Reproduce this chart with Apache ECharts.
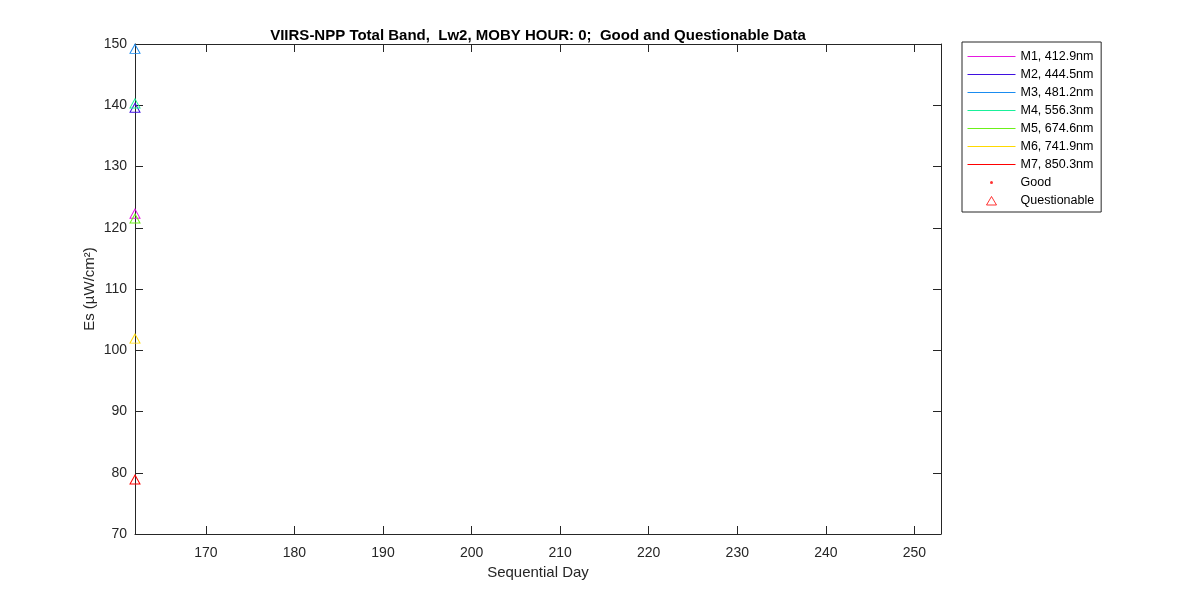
<!DOCTYPE html>
<html>
<head>
<meta charset="utf-8">
<title>VIIRS-NPP Total Band Lw2</title>
<script src="https://cdn.jsdelivr.net/npm/echarts@6/dist/echarts.min.js"></script>
<style>
  html, body { margin: 0; padding: 0; background: #fff; }
  #chart { width: 1200px; height: 600px; }
</style>
</head>
<body>
<div id="chart"></div>
<script>
// data: one questionable point per band on day 162
const bandNames = ['M1, 412.9nm', 'M2, 444.5nm', 'M3, 481.2nm', 'M4, 556.3nm', 'M5, 674.6nm', 'M6, 741.9nm', 'M7, 850.3nm'];
const bandColors = ['#E619E0', '#3F10E0', '#1A8CF0', '#19F09A', '#6CF019', '#FFD900', '#FF0000'];
const seqDay = [162, 162, 162, 162, 162, 162, 162];
const esValues = [122.3, 139.6, 149.2, 140.3, 121.5, 101.9, 78.9];
const xTicks = [170, 180, 190, 200, 210, 220, 230, 240, 250];

const axisColor = '#262626';
const font = 'Liberation Sans, Arial, Helvetica, sans-serif';
const clear = 'rgba(0,0,0,0)';

const chart = echarts.init(document.getElementById('chart'));

const series = bandNames.map((name, i) => ({
  name: name,
  type: 'line',
  data: [[seqDay[i], esValues[i]]],
  symbol: 'triangle',
  symbolSize: [10, 9],
  lineStyle: { color: bandColors[i], width: 1 },
  itemStyle: { color: clear, borderColor: bandColors[i], borderWidth: 1 },
  emphasis: { disabled: true },
  z: 3 + i
}));
series.push({
  name: 'Good', type: 'scatter', data: [],
  symbol: 'circle', symbolSize: 4, itemStyle: { color: '#FF0000' }
});
series.push({
  name: 'Questionable', type: 'scatter', data: [],
  symbol: 'triangle', symbolSize: [10, 9],
  itemStyle: { color: clear, borderColor: '#FF0000', borderWidth: 1 }
});

const legendData = bandNames.map((name, i) => ({
  name: name,
  lineStyle: { color: bandColors[i], width: 1 },
  itemStyle: { color: clear, borderColor: clear, borderWidth: 0 }
}));
legendData.push({
  name: 'Good',
  icon: 'path://M0,0M48,13M22.5,6.5a1.5,1.5 0 1,0 3,0a1.5,1.5 0 1,0 -3,0Z',
  itemStyle: { color: '#FF0000', borderWidth: 0 }
});
legendData.push({
  name: 'Questionable',
  icon: 'path://M0,0M48,13M24,2L29,10.5L19,10.5Z',
  itemStyle: { color: clear, borderColor: '#FF0000', borderWidth: 1 }
});

const option = {
  backgroundColor: '#fff',
  animation: false,
  textStyle: { fontFamily: font },
  title: {
    text: 'VIIRS-NPP Total Band,  Lw2, MOBY HOUR: 0;  Good and Questionable Data',
    left: 533, top: 23, textAlign: 'center',
    textStyle: { fontSize: 15, fontWeight: 'bold', color: '#000', fontFamily: font }
  },
  legend: {
    orient: 'vertical',
    left: 962, top: 42,
    padding: [8, 7, 4, 5],
    itemWidth: 48, itemHeight: 13, itemGap: 5,
    borderColor: '#262626', borderWidth: 1,
    backgroundColor: '#fff',
    selectedMode: false,
    textStyle: { fontSize: 12.5, lineHeight: 13, color: '#000', fontFamily: font },
    data: legendData
  },
  grid: { left: 135, right: 259, top: 44, bottom: 66 },
  xAxis: [{
    type: 'value', min: 162, max: 253, position: 'bottom',
    name: 'Sequential Day', nameLocation: 'middle', nameGap: 31,
    nameTextStyle: { fontSize: 15, color: axisColor },
    axisLine: { onZero: false, lineStyle: { color: axisColor } },
    axisTick: { inside: true, length: 8, customValues: xTicks, lineStyle: { color: axisColor } },
    axisLabel: { customValues: xTicks, margin: 12, fontSize: 14, color: axisColor },
    splitLine: { show: false }
  }, {
    type: 'value', min: 162, max: 253, position: 'top',
    axisLine: { onZero: false, lineStyle: { color: axisColor } },
    axisTick: { inside: true, length: 8, customValues: xTicks, lineStyle: { color: axisColor } },
    axisLabel: { show: false },
    splitLine: { show: false }
  }],
  yAxis: [{
    type: 'value', min: 70, max: 150, interval: 10, position: 'left',
    name: 'Es (\u00b5W/cm\u00b2)', nameLocation: 'middle', nameGap: 38, nameRotate: 90,
    nameMoveOverlap: false,
    nameTextStyle: { fontSize: 15, color: axisColor },
    axisLine: { show: true, onZero: false, lineStyle: { color: axisColor } },
    axisTick: { show: true, inside: true, length: 8, lineStyle: { color: axisColor } },
    axisLabel: { margin: 8, fontSize: 14, color: axisColor },
    splitLine: { show: false }
  }, {
    type: 'value', min: 70, max: 150, interval: 10, position: 'right',
    axisLine: { show: true, onZero: false, lineStyle: { color: axisColor } },
    axisTick: { show: true, inside: true, length: 8, lineStyle: { color: axisColor } },
    axisLabel: { show: false },
    splitLine: { show: false }
  }],
  series: series
};

chart.setOption(option);
</script>
</body>
</html>
